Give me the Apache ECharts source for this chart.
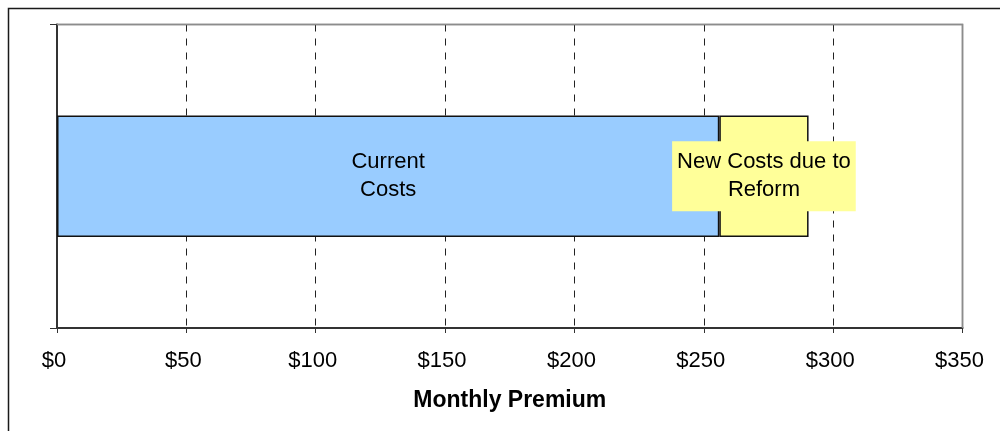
<!DOCTYPE html>
<html>
<head>
<meta charset="utf-8">
<script src="https://cdn.jsdelivr.net/npm/echarts@6/dist/echarts.min.js"></script>
<style>
html,body{margin:0;padding:0;background:#fff;}
#chart{width:1000px;height:431px;}
</style>
</head>
<body>
<div id="chart"></div>
<script>
const categories = ['Premium'];
const seriesNames = ['Current Costs', 'New Costs due to Reform'];
const labelTexts = ['Current\nCosts', 'New Costs due to\nReform'];
const currentCosts = [256];
const reformCosts = [34.5];
const xTicks = [0, 50, 100, 150, 200, 250, 300, 350];
const axisTitle = 'Monthly Premium';

const FONT = '"Liberation Sans", Arial, sans-serif';
const chart = echarts.init(document.getElementById('chart'), null, {renderer: 'canvas'});
chart.setOption({
  animation: false,
  backgroundColor: '#fff',
  graphic: [{
    type: 'rect', silent: true, z: 100,
    shape: {x: 8.5, y: 8.5, width: 1200, height: 1000},
    style: {fill: 'none', stroke: '#1a1a1a', lineWidth: 1.5}
  }, {
    type: 'polyline', silent: true, z: 100,
    shape: {points: [[57, 24.5], [962.5, 24.5], [962.5, 328]]},
    style: {fill: 'none', stroke: '#8c8c8c', lineWidth: 1.5}
  }],
  grid: {
    left: 57, right: 37.5, top: 24.5, bottom: 103,
    show: true, borderColor: '#8c8c8c', borderWidth: 1.5, backgroundColor: '#fff'
  },
  xAxis: {
    type: 'value',
    min: xTicks[0], max: xTicks[xTicks.length - 1], interval: xTicks[1] - xTicks[0],
    name: axisTitle, nameLocation: 'middle', nameGap: 61,
    nameTextStyle: {fontFamily: FONT, fontSize: 23, fontWeight: 'bold', color: '#000'},
    axisLine: {show: true, lineStyle: {color: '#333', width: 2}},
    axisTick: {show: true, length: 5, lineStyle: {color: '#333', width: 1}},
    axisLabel: {margin: 22, fontFamily: FONT, fontSize: 22, color: '#000',
      padding: [0, 6, 0, 0], formatter: v => '$' + v},
    splitLine: {show: true, lineStyle: {color: '#222', width: 1, type: [7, 7]}}
  },
  yAxis: {
    type: 'category', data: categories,
    axisLine: {show: true, lineStyle: {color: '#333', width: 2}},
    axisTick: {show: true, length: 7, lineStyle: {color: '#333', width: 1}},
    axisLabel: {show: false},
    splitLine: {show: false}
  },
  series: [
    {
      name: seriesNames[0], type: 'bar', stack: 'total', barWidth: '40%',
      data: currentCosts,
      itemStyle: {color: '#99CCFF', borderColor: '#111', borderWidth: 1.5},
      label: {show: true, position: 'inside', formatter: labelTexts[0],
        fontFamily: FONT, fontSize: 22, lineHeight: 28, color: '#000'}
    },
    {
      name: seriesNames[1], type: 'bar', stack: 'total', barWidth: '40%',
      data: reformCosts,
      itemStyle: {color: '#FFFF99', borderColor: '#111', borderWidth: 1.5},
      label: {show: true, position: 'inside', formatter: labelTexts[1],
        fontFamily: FONT, fontSize: 22, lineHeight: 28, color: '#000',
        backgroundColor: '#FFFF99', padding: [7, 5, 7, 5]}
    }
  ]
});
</script>
</body>
</html>
